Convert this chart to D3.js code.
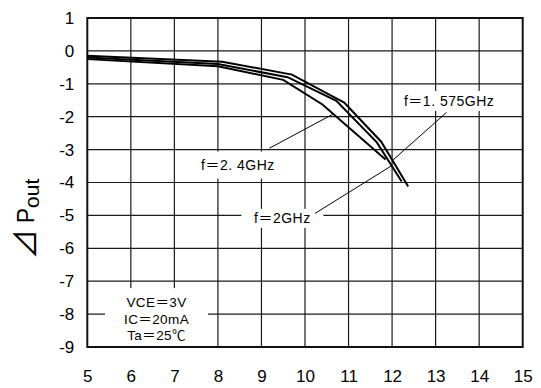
<!DOCTYPE html>
<html>
<head>
<meta charset="utf-8">
<script src="https://cdn.jsdelivr.net/npm/d3@7"></script>
<style>
  html, body { margin: 0; padding: 0; background: #fff; }
  svg { display: block; }
  text { font-family: "Liberation Sans", Arial, sans-serif; fill: #000; }
  .ann { font-family: "Liberation Sans", "Noto Sans CJK JP", sans-serif; }
</style>
</head>
<body>
<svg id="chart" width="541" height="388"></svg>
<script>
// ---- data ----
const xTicks = [5, 6, 7, 8, 9, 10, 11, 12, 13, 14, 15];
const yTicks = [1, 0, -1, -2, -3, -4, -5, -6, -7, -8, -9];

// f=1.575GHz (outer curve)
const pin1575 = [5, 8.1, 9.7, 10.9, 11.75, 12.37];
const dp1575  = [-0.15, -0.33, -0.72, -1.57, -2.76, -4.12];
// f=2GHz (middle curve)
const pin2000 = [5, 8.0, 9.6, 10.72, 11.65, 12.22];
const dp2000  = [-0.2, -0.4, -0.8, -1.52, -2.78, -3.97];
// f=2.4GHz (inner curve)
const pin2400 = [5, 8.0, 9.5, 10.4, 11.85];
const dp2400  = [-0.25, -0.47, -0.88, -1.63, -3.3];

const seriesNames = ["f＝1. 575GHz", "f＝2GHz", "f＝2. 4GHz"];
const conditions = ["VCE＝3V", "IC＝20mA", "Ta＝25℃"];

// ---- layout ----
const svg = d3.select("#chart");
const L = 87.3, R = 522.7, T = 18, B = 347;
const x = d3.scaleLinear().domain([5, 15]).range([L, R]);
const y = d3.scaleLinear().domain([-9, 1]).range([B, T]);

const series = [
  { name: seriesNames[0], pts: pin1575.map((v, i) => [v, dp1575[i]]) },
  { name: seriesNames[1], pts: pin2000.map((v, i) => [v, dp2000[i]]) },
  { name: seriesNames[2], pts: pin2400.map((v, i) => [v, dp2400[i]]) }
];

function interp(pts, xv) {
  for (let i = 0; i < pts.length - 1; i++) {
    const [x0, y0] = pts[i], [x1, y1] = pts[i + 1];
    if (xv >= x0 && xv <= x1) return y0 + (y1 - y0) * (xv - x0) / (x1 - x0);
  }
  return pts[pts.length - 1][1];
}

// grid
const grid = svg.append("g");
grid.selectAll("line.v").data(xTicks.slice(1, -1)).join("line")
  .attr("x1", d => x(d)).attr("x2", d => x(d)).attr("y1", T).attr("y2", B)
  .attr("stroke", "#1a1a1a").attr("stroke-width", 1.2);
grid.selectAll("line.h").data(yTicks.slice(1, -1)).join("line")
  .attr("y1", d => y(d)).attr("y2", d => y(d)).attr("x1", L).attr("x2", R)
  .attr("stroke", "#1a1a1a").attr("stroke-width", 1.2);

// axes labels
const fmt = d => String(d);
const xAxis = d3.axisBottom(x).tickValues(xTicks).tickSize(0).tickPadding(0).tickFormat(fmt);
const gx = svg.append("g").attr("transform", `translate(0,${B + 23})`).call(xAxis);
gx.select(".domain").remove();
gx.selectAll("text").attr("font-size", 17).attr("font-family", "Liberation Sans, Arial, sans-serif").attr("fill", "#000");

const yAxis = d3.axisLeft(y).tickValues(yTicks).tickSize(0).tickPadding(0).tickFormat(fmt);
const gy = svg.append("g").attr("transform", `translate(${L - 13},0)`).call(yAxis);
gy.select(".domain").remove();
gy.selectAll("text").attr("font-size", 17).attr("font-family", "Liberation Sans, Arial, sans-serif").attr("fill", "#000");

// annotation boxes (white) covering grid
const ann = [
  { text: seriesNames[0], cx: 13.31, cy: -1.52, w: 109, h: 20, from: [13.25, -1.87], to: 12.01, s: 0 },
  { text: seriesNames[2], cx: 8.46,  cy: -3.47, w: 87,  h: 27, from: [9.18, -2.96], to: 10.65, s: 2 },
  { text: seriesNames[1], cx: 9.48,  cy: -5.09, w: 82,  h: 19, from: [10.23, -4.94], to: 11.99, s: 1 }
];
svg.selectAll("rect.ann").data(ann).join("rect")
  .attr("x", d => x(d.cx) - d.w / 2).attr("y", d => y(d.cy) - d.h / 2)
  .attr("width", d => d.w).attr("height", d => d.h).attr("fill", "#fff");

// conditions box
const condCx = 6.59, condTop = -7.21, condBot = -8.97;
svg.append("rect").attr("x", x(condCx) - 51.5).attr("y", y(condTop))
  .attr("width", 103).attr("height", y(condBot) - y(condTop)).attr("fill", "#fff");

// border
svg.append("rect").attr("x", L).attr("y", T).attr("width", R - L).attr("height", B - T)
  .attr("fill", "none").attr("stroke", "#111").attr("stroke-width", 2);

// curves
const line = d3.line().x(d => x(d[0])).y(d => y(d[1]));
svg.selectAll("path.curve").data(series).join("path")
  .attr("d", d => line(d.pts)).attr("fill", "none")
  .attr("stroke", "#000").attr("stroke-width", 2).attr("stroke-linejoin", "miter");

// leader lines
svg.selectAll("line.lead").data(ann).join("line")
  .attr("x1", d => x(d.from[0])).attr("y1", d => y(d.from[1]))
  .attr("x2", d => x(d.to)).attr("y2", d => y(interp(series[d.s].pts, d.to)))
  .attr("stroke", "#000").attr("stroke-width", 1);

// annotation text
svg.selectAll("text.ann").data(ann).join("text").attr("class", "ann")
  .attr("x", d => x(d.cx)).attr("y", d => y(d.cy) + 5)
  .attr("text-anchor", "middle").attr("font-size", 14).attr("letter-spacing", 0.5)
  .text(d => d.text);

// conditions text
svg.selectAll("text.cond").data(conditions).join("text").attr("class", "ann")
  .attr("x", x(condCx)).attr("y", (d, i) => y(condTop) + 19 + i * 16.5)
  .attr("text-anchor", "middle").attr("font-size", 13.5).attr("letter-spacing", 0.4)
  .text(d => d);

// y-axis title
const yt = svg.append("text").attr("transform", "translate(34,219) rotate(-90)")
  .attr("text-anchor", "middle").attr("font-size", 23);
yt.append("tspan").attr("font-size", 30).attr("font-family", "Noto Sans CJK JP").attr("dy", 2).text("⊿");
yt.append("tspan").attr("dx", 6).attr("dy", -2).text("P");
yt.append("tspan").attr("font-size", 21).attr("dy", 5).text("out");
</script>
</body>
</html>
